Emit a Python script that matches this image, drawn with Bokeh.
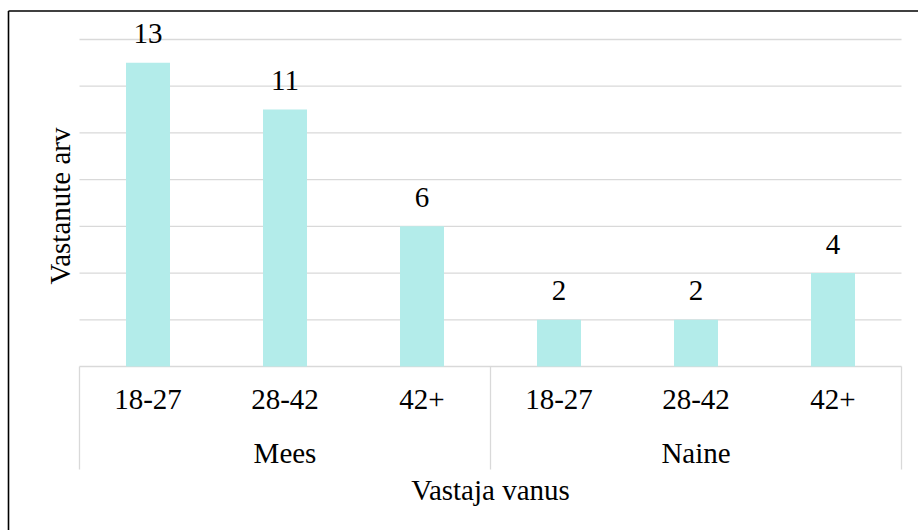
import math
from bokeh.plotting import figure
from bokeh.models import Range1d, ColumnDataSource
from bokeh.core.properties import value
from bokeh.embed import file_html
from bokeh.resources import INLINE

# ---- data ----
groups = ["Mees", "Naine"]
age_groups = ["18-27", "28-42", "42+"]
counts_mees = [13, 11, 6]
counts_naine = [2, 2, 4]
y_ticks = [2, 4, 6, 8, 10, 12, 14]
y_title = "Vastanute arv"
x_title = "Vastaja vanus"

FONT = value("Times New Roman")
FS = "29px"
W, H = 918, 530
# pixel geometry of the plotting area (reference)
PX_LEFT, PX_RIGHT = 79, 901
PY_ZERO, PY_TOP = 366, 39
n_cat = len(groups) * len(age_groups)
ux = (PX_RIGHT - PX_LEFT) / n_cat          # px per category
ky = (PY_ZERO - PY_TOP) / y_ticks[-1]      # px per unit value
BASE_FIX = 10  # compensation for svg baseline placement

def u(px):
    return (px - PX_LEFT) / ux

def v(py):
    return (PY_ZERO - py) / ky

p = figure(width=W, height=H, output_backend="svg", toolbar_location=None,
           x_range=Range1d(u(0), u(W)), y_range=Range1d(v(H), v(0)),
           x_axis_type=None, y_axis_type=None, min_border=0,
           outline_line_color=None, background_fill_color="white",
           border_fill_color="white")
p.xgrid.visible = False
p.ygrid.visible = False

# outer chart border (left & top visible, rest beyond the window)
p.segment(x0=[u(8), u(8)], y0=[v(10.5), v(10.5)], x1=[u(8), u(W + 20)], y1=[v(H + 20), v(10.5)],
          line_color="black", line_width=1.6)

# gridlines
GRID = "#d9d9d9"
p.segment(x0=[0] * len(y_ticks), x1=[n_cat] * len(y_ticks), y0=y_ticks, y1=y_ticks,
          line_color=GRID, line_width=1.3)
# baseline (category axis line)
p.segment(x0=[0], x1=[n_cat], y0=[0], y1=[0], line_color=GRID, line_width=1.3)
# group separators
sep_x = [i * len(age_groups) for i in range(len(groups) + 1)]
p.segment(x0=sep_x, x1=sep_x, y0=[0] * len(sep_x), y1=[v(469)] * len(sep_x),
          line_color=GRID, line_width=1.3)

# bars
xs, tops, subs = [], [], []
for gi, vals in enumerate([counts_mees, counts_naine]):
    for ai, val in enumerate(vals):
        xs.append(gi * len(age_groups) + ai + 0.5)
        tops.append(val)
        subs.append(age_groups[ai])
src = ColumnDataSource(dict(x=xs, top=tops, lab=[str(t) for t in tops], sub=subs))
p.vbar(x="x", top="top", bottom=0, width=44 / ux, source=src,
       fill_color="#b3ecea", line_color=None)

# value labels
p.text(x="x", y="top", text="lab", source=src, y_offset=-19 - BASE_FIX,
       text_align="center", text_baseline="alphabetic",
       text_font=FONT, text_font_size=FS, text_color="black")

# sub-category labels
p.text(x="x", y=v(409 - BASE_FIX), text="sub", source=src, text_align="center",
       text_baseline="alphabetic", text_font=FONT, text_font_size=FS,
       text_color="black")
# group labels
gx = [gi * len(age_groups) + len(age_groups) / 2 for gi in range(len(groups))]
p.text(x=gx, y=[v(462 - BASE_FIX)] * len(groups), text=groups, text_align="center",
       text_baseline="alphabetic", text_font=FONT, text_font_size=FS,
       text_color="black")
# axis titles
p.text(x=[n_cat / 2], y=[v(499 - BASE_FIX)], text=[x_title], text_align="center",
       text_baseline="alphabetic", text_font=FONT, text_font_size=FS,
       text_color="black")
p.text(x=[u(69 - BASE_FIX)], y=[v(205.5)], text=[y_title], angle=math.pi / 2,
       text_align="center", text_baseline="alphabetic", text_font=FONT,
       text_font_size=FS, text_color="black")

open("out.html", "w").write(file_html(p, INLINE))
